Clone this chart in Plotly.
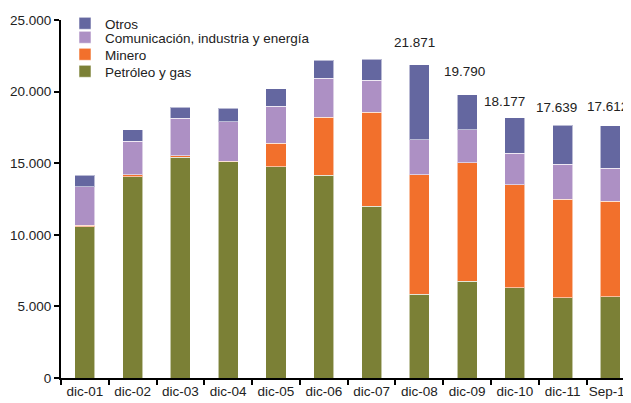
import plotly.graph_objects as go

categorias = ["dic-01", "dic-02", "dic-03", "dic-04", "dic-05", "dic-06",
              "dic-07", "dic-08", "dic-09", "dic-10", "dic-11", "Sep-12"]

petroleo = [10550, 14050, 15400, 15100, 14750, 14150, 12000, 5850, 6750, 6300, 5600, 5680]
minero = [100, 150, 120, 30, 1630, 4050, 6570, 8330, 8290, 7180, 6900, 6680]
comunicacion = [2700, 2350, 2630, 2750, 2610, 2750, 2230, 2450, 2280, 2230, 2440, 2280]
otros = [800, 800, 770, 950, 1210, 1230, 1450, 5241, 2470, 2467, 2699, 2972]

# totales rotulados (dic-08 en adelante)
cat_total = ["dic-08", "dic-09", "dic-10", "dic-11", "Sep-12"]
totales = [21871, 19790, 18177, 17639, 17612]
etiquetas = ["21.871", "19.790", "18.177", "17.639", "17.612"]

# desplazamiento de cada rótulo en píxeles (x, y), como en el original
desplaz = [(-5, 13), (-3, 14), (-10, 7), (-6, 8), (-3, 10)]

series = [
    ("Petróleo y gas", petroleo, "#7B8036"),
    ("Minero", minero, "#F2702C"),
    ("Comunicación, industria y energía", comunicacion, "#AD90C4"),
    ("Otros", otros, "#6467A0"),
]

FS = 13.5
W, H = 623, 395  # la página añade 8 px de margen al body
fig = go.Figure()
leyendas = {}
# una leyenda por serie para controlar el interlineado (Otros arriba)
for i, (nombre, vals, color) in enumerate(series):
    lid = "legend" if i == 0 else f"legend{i + 1}"
    fila = len(series) - 1 - i
    leyendas[lid] = dict(x=57 / W, y=1 + (3 - fila * 17) / H, xref="container", yref="container",
                         xanchor="left", yanchor="top",
                         bgcolor="rgba(0,0,0,0)", font=dict(size=FS), itemwidth=30)
    fig.add_trace(go.Bar(
        x=categorias, y=vals, name=nombre, legend=lid,
        marker=dict(color=color, line=dict(color="rgba(255,255,255,0.55)", width=1)),
    ))

for c, t, txt, (dx, dy) in zip(cat_total, totales, etiquetas, desplaz):
    fig.add_annotation(x=c, y=t, text=txt, showarrow=False,
                       yanchor="bottom", xshift=dx, yshift=dy,
                       font=dict(size=FS, color="#222222"))

fig.update_layout(
    width=W, height=H,
    barmode="stack", bargap=0.58,
    separators=",.",
    plot_bgcolor="white", paper_bgcolor="white",
    font=dict(family="Liberation Sans, Arial, sans-serif", size=FS, color="#222222"),
    margin=dict(l=53, r=0, t=12, b=25, autoexpand=False),
    showlegend=True,
    **leyendas,
)
fig.update_xaxes(range=[-0.5, 11.43], showline=True, linecolor="black", linewidth=2,
                 ticks="outside", tickson="boundaries", ticklen=5, tickcolor="black",
                 tickwidth=2, showgrid=False, tickangle=0, automargin=False,
                 tickfont=dict(size=FS))
fig.update_yaxes(range=[0, 25000], dtick=5000, tickformat=",d", showline=True,
                 linecolor="black", linewidth=2, ticks="outside", ticklen=5,
                 tickcolor="black", tickwidth=2, showgrid=False, zeroline=False,
                 automargin=False, tickfont=dict(size=FS))

fig.write_html("out.html")
